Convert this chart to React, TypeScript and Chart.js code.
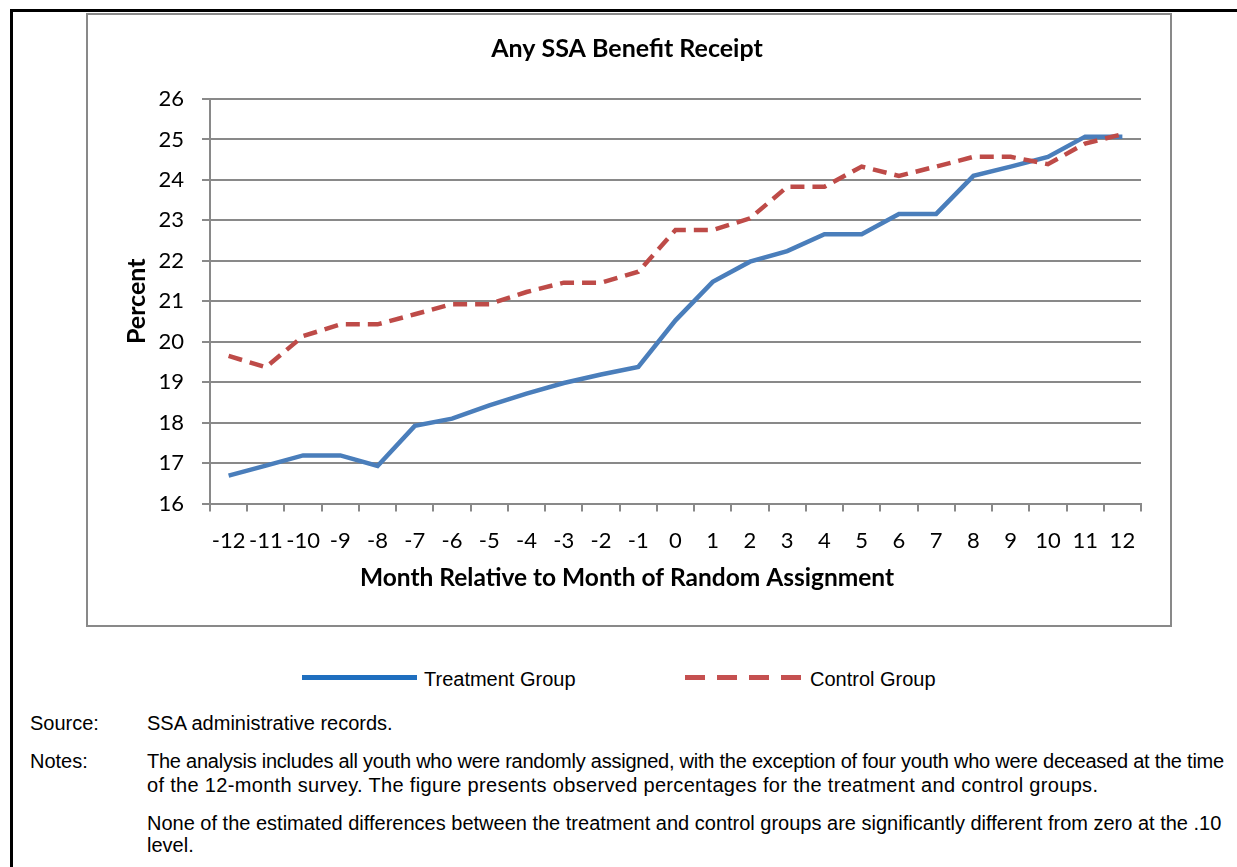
import React, { useEffect, useRef } from "react";
import { Chart, registerables } from "chart.js";

Chart.register(...registerables);

const months = ["-12", "-11", "-10", "-9", "-8", "-7", "-6", "-5", "-4", "-3", "-2", "-1", "0", "1", "2", "3", "4", "5", "6", "7", "8", "9", "10", "11", "12"];
const treatmentGroup = [16.69, 16.94, 17.19, 17.19, 16.93, 17.92, 18.1, 18.43, 18.72, 18.98, 19.19, 19.38, 20.53, 21.48, 21.98, 22.24, 22.66, 22.66, 23.16, 23.16, 24.1, 24.33, 24.57, 25.07, 25.07];
const controlGroup = [19.65, 19.37, 20.14, 20.43, 20.43, 20.68, 20.93, 20.93, 21.23, 21.46, 21.46, 21.73, 22.76, 22.76, 23.05, 23.83, 23.83, 24.33, 24.1, 24.33, 24.57, 24.57, 24.39, 24.9, 25.13];
const yMin = 16;
const yMax = 26;
const yStep = 1;

const chartTitle = "Any SSA Benefit Receipt";
const xTitle = "Month Relative to Month of Random Assignment";
const yTitle = "Percent";
const seriesNames = ["Treatment Group", "Control Group"];

const noteLines = [
  "The analysis includes all youth who were randomly assigned, with the exception of four youth who were deceased at the time",
  "of the 12-month survey. The figure presents observed percentages for the treatment and control groups.",
];
const noteLines2 = [
  "None of the estimated differences between the treatment and control groups are significantly different from zero at the .10",
  "level.",
];

const GRID = "#898989";
const textFont = "'Liberation Sans', Arial, sans-serif";

export default function App() {
  const canvasRef = useRef<HTMLCanvasElement | null>(null);

  useEffect(() => {
    const canvas = canvasRef.current;
    if (!canvas) return;
    const chart = new Chart(canvas, {
      type: "line",
      data: {
        labels: months,
        datasets: [
          {
            label: seriesNames[0],
            data: treatmentGroup,
            borderColor: "#4a7ebb",
            backgroundColor: "#4a7ebb",
            borderWidth: 4.5,
            pointRadius: 0,
            tension: 0,
            fill: false,
            order: 1,
          },
          {
            label: seriesNames[1],
            data: controlGroup,
            borderColor: "#be4b48",
            backgroundColor: "#be4b48",
            borderWidth: 4.5,
            borderDash: [14, 8],
            pointRadius: 0,
            tension: 0,
            fill: false,
            order: 0,
          },
        ],
      },
      options: {
        animation: false,
        responsive: false,
        layout: { padding: { top: 0, right: 29, bottom: 0, left: 25 } },
        plugins: {
          legend: { display: false },
          tooltip: { enabled: false },
          title: {
            display: true,
            text: chartTitle,
            color: "#000",
            font: { family: "Lato", size: 25, weight: "bold" },
            padding: { top: 19, bottom: 35 },
          },
          subtitle: {
            display: true,
            position: "bottom",
            text: xTitle,
            color: "#000",
            font: { family: "Lato", size: 24.5, weight: "bold" },
            padding: { top: 8, bottom: 32 },
          },
        },
        scales: {
          x: {
            type: "category",
            offset: true,
            grid: {
              display: true,
              drawOnChartArea: false,
              drawTicks: true,
              tickLength: 8,
              offset: true,
              color: GRID,
              lineWidth: 2,
            },
            border: { display: true, color: GRID, width: 2 },
            ticks: {
              color: "#000",
              font: { family: "Lato", size: 22 },
              padding: 16,
              maxRotation: 0,
              minRotation: 0,
              autoSkip: false,
            },
            afterFit: (s: any) => {
              s.height = 52;
            },
          },
          y: {
            min: yMin,
            max: yMax,
            ticks: {
              stepSize: yStep,
              color: "#000",
              font: { family: "Lato", size: 22 },
              padding: 18,
            },
            grid: { color: GRID, lineWidth: 2, tickLength: 8 },
            border: { display: true, color: GRID, width: 2 },
            title: {
              display: true,
              text: yTitle,
              color: "#000",
              font: { family: "Lato", size: 25, weight: "bold" },
              padding: { top: 9, bottom: 0 },
            },
            afterFit: (s: any) => {
              s.width = 97;
            },
          },
        },
      },
    });
    return () => chart.destroy();
  }, []);

  const abs = (left: number, top: number, extra: React.CSSProperties = {}): React.CSSProperties => ({
    position: "absolute",
    left,
    top,
    ...extra,
  });
  const txt: React.CSSProperties = {
    fontFamily: textFont,
    fontSize: 20,
    lineHeight: "24px",
    color: "#000",
    whiteSpace: "nowrap",
  };

  return (
    <div style={{ position: "absolute", left: 0, top: 0, width: 1237, height: 867, background: "#fff", overflow: "hidden" }}>
      <div style={abs(10, 9, { width: 1227, height: 2.5, background: "#000" })} />
      <div style={abs(10, 9, { width: 2.5, height: 858, background: "#000" })} />
      <div style={abs(86, 13, { width: 1086, height: 614, border: `2px solid ${GRID}`, boxSizing: "border-box" })} />
      <canvas ref={canvasRef} width={1082} height={610} style={abs(88, 15, { width: 1082, height: 610 })} />

      <div style={abs(302, 675, { width: 115, height: 5, background: "#1f6fbf" })} />
      <div style={{ ...abs(424, 667), ...txt }}>{seriesNames[0]}</div>
      <div
        style={abs(685, 675, {
          width: 116,
          height: 5,
          background: "repeating-linear-gradient(to right, #c55050 0px, #c55050 20px, transparent 20px, transparent 32px)",
        })}
      />
      <div style={{ ...abs(810, 667), ...txt }}>{seriesNames[1]}</div>

      <div style={{ ...abs(30, 711), ...txt }}>Source:</div>
      <div style={{ ...abs(147, 711), ...txt }}>SSA administrative records.</div>
      <div style={{ ...abs(30, 749), ...txt }}>Notes:</div>
      <div style={{ ...abs(147, 749), ...txt, letterSpacing: "-0.24px" }}>{noteLines[0]}</div>
      <div style={{ ...abs(147, 773), ...txt, letterSpacing: "0.32px" }}>{noteLines[1]}</div>
      <div style={{ ...abs(147, 811), ...txt }}>{noteLines2[0]}</div>
      <div style={{ ...abs(147, 833), ...txt }}>{noteLines2[1]}</div>
    </div>
  );
}
